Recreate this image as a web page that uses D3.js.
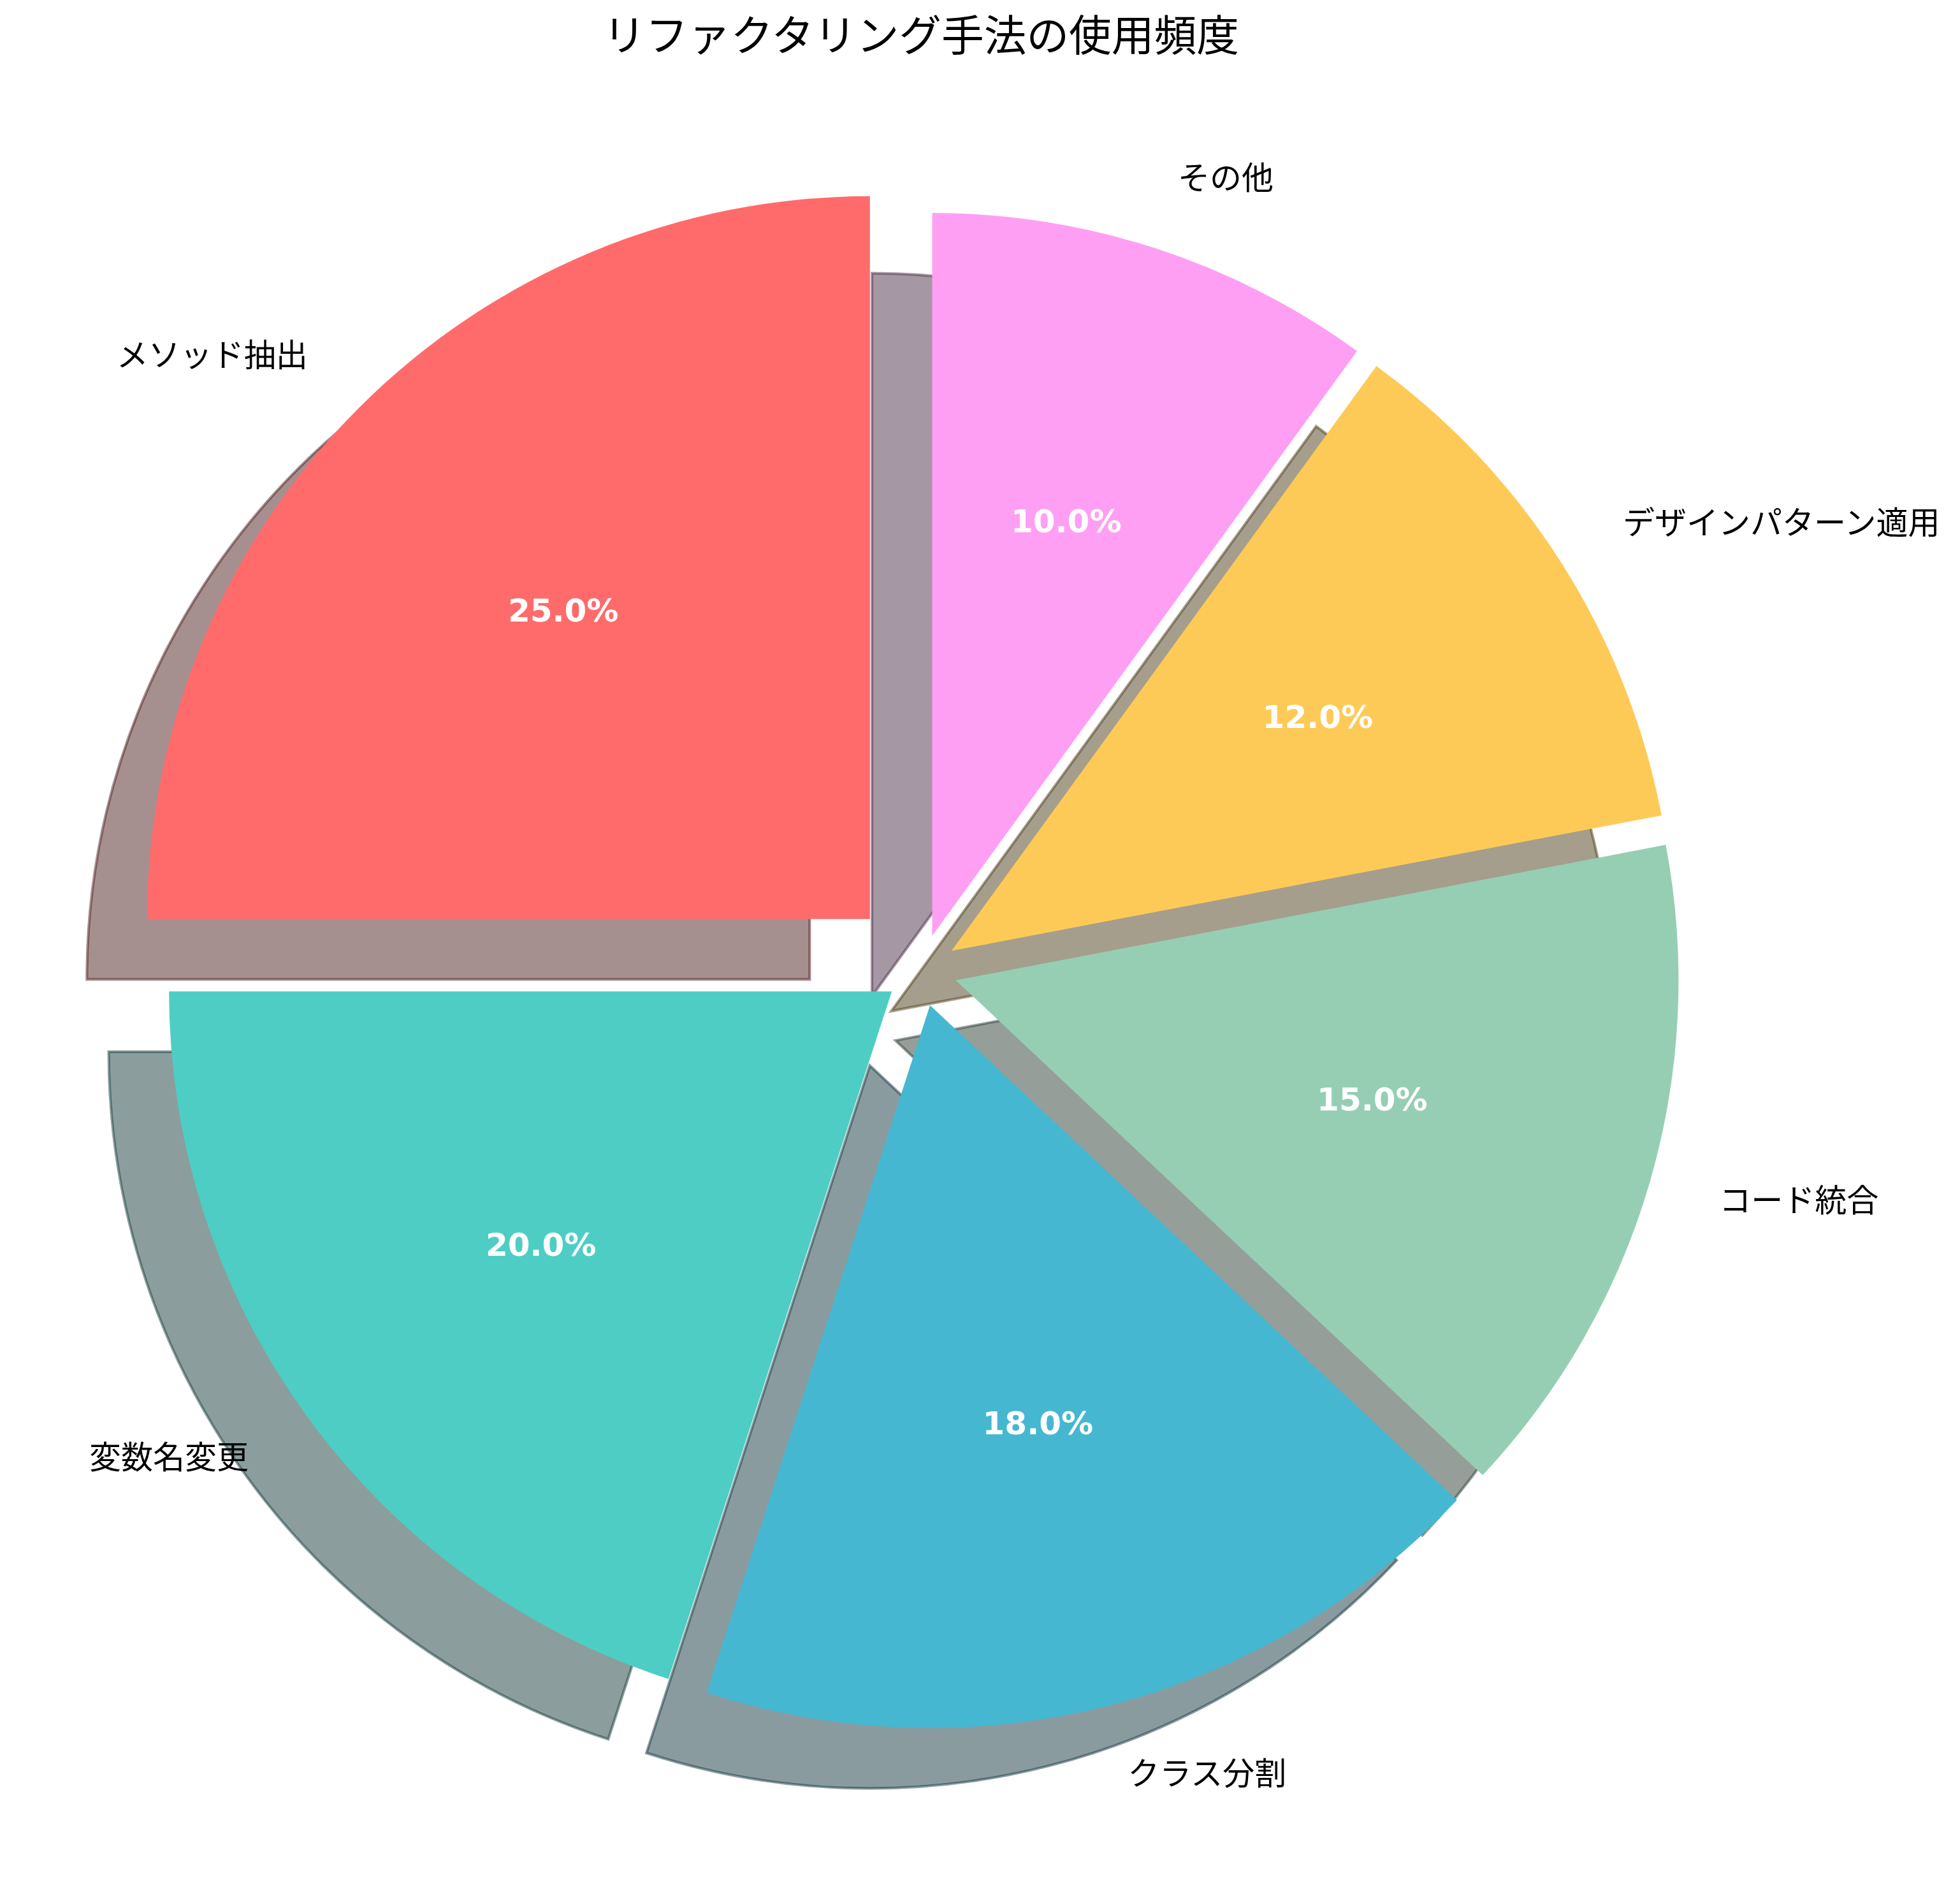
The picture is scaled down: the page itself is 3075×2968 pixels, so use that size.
<!DOCTYPE html>
<html lang="ja">
<head>
<meta charset="UTF-8">
<title>リファクタリング手法の使用頻度</title>
<script src="https://d3js.org/d3.v7.min.js"></script>
<style>
  body { margin: 0; background: #fff; }
  .title { font-family: "Noto Sans CJK JP", sans-serif; font-size: 66.7px; fill: #000; }
  .label { font-family: "Noto Sans CJK JP", sans-serif; font-size: 50px; fill: #000; }
  .pct { font-family: "DejaVu Sans", sans-serif; font-weight: bold; font-size: 50px; fill: #fff; }
</style>
</head>
<body>
<svg width="3075" height="2968"></svg>
<script>
const categories = ['メソッド抽出', '変数名変更', 'クラス分割', 'コード統合', 'デザインパターン適用', 'その他'];
const values = [25, 20, 18, 15, 12, 10];
const explode = [0.1, 0.05, 0.05, 0.05, 0.05, 0.05];
const colors = ['#FF6B6B', '#4ECDC4', '#45B7D1', '#96CEB4', '#FECA57', '#FF9FF3'];

const width = 3075, height = 2968;
const center = [1445, 1522];
// pie radius 1 in data units -> pixels
const r = d3.scaleLinear().domain([0, 1]).range([0, 1134]);
const shadowShift = 0.02 * 300 / 72;  // matplotlib shadow offset at 300 dpi
const total = d3.sum(values);

const svg = d3.select('svg');
svg.append('rect').attr('width', width).attr('height', height).attr('fill', '#fff');

const data = categories.map((c, i) => ({ name: c, value: values[i], explode: explode[i], color: colors[i] }));

// start at 12 o'clock, go counter-clockwise
const pie = d3.pie().value(d => d.value).sort(null).startAngle(0).endAngle(-2 * Math.PI);
const arcs = pie(data);
const arc = d3.arc().innerRadius(0).outerRadius(r(1));

const mid = a => (a.startAngle + a.endAngle) / 2;
const dir = a => [Math.sin(mid(a)), -Math.cos(mid(a))];
const offset = a => dir(a).map(v => v * r(a.data.explode));
const shade = c => { const k = d3.rgb(c); return d3.rgb(k.r * 0.3, k.g * 0.3, k.b * 0.3).formatHex(); };

const chart = svg.append('g').attr('transform', `translate(${center})`);

// shadows (all below the wedges)
chart.append('g').selectAll('path')
  .data(arcs)
  .join('path')
  .attr('transform', a => {
    const [x, y] = offset(a);
    return `translate(${x - r(shadowShift)},${y + r(shadowShift)})`;
  })
  .attr('d', arc)
  .attr('fill', a => shade(a.data.color))
  .attr('fill-opacity', 0.5)
  .attr('stroke', a => shade(a.data.color))
  .attr('stroke-opacity', 0.5)
  .attr('stroke-width', 4.17);

// wedges
chart.append('g').selectAll('path')
  .data(arcs)
  .join('path')
  .attr('transform', a => `translate(${offset(a)})`)
  .attr('d', arc)
  .attr('fill', a => a.data.color);

// category labels
chart.append('g').selectAll('text')
  .data(arcs)
  .join('text')
  .attr('class', 'label')
  .each(function (a) {
    const [ox, oy] = offset(a);
    const [dx, dy] = dir(a);
    const x = ox + r(1.1) * dx;
    d3.select(this)
      .attr('x', x)
      .attr('y', oy + r(1.1) * dy)
      .attr('dy', '0.3em')
      .attr('text-anchor', x > 0 ? 'start' : 'end');
  })
  .text(a => a.data.name);

// percent labels
chart.append('g').selectAll('text')
  .data(arcs)
  .join('text')
  .attr('class', 'pct')
  .attr('text-anchor', 'middle')
  .attr('x', a => offset(a)[0] + r(0.6) * dir(a)[0])
  .attr('y', a => offset(a)[1] + r(0.6) * dir(a)[1])
  .attr('dy', '0.29em')
  .text(a => d3.format('.1f')(a.data.value / total * 100) + '%');

svg.append('text')
  .attr('class', 'title')
  .attr('x', center[0])
  .attr('y', 80)
  .attr('text-anchor', 'middle')
  .text('リファクタリング手法の使用頻度');
</script>
</body>
</html>
